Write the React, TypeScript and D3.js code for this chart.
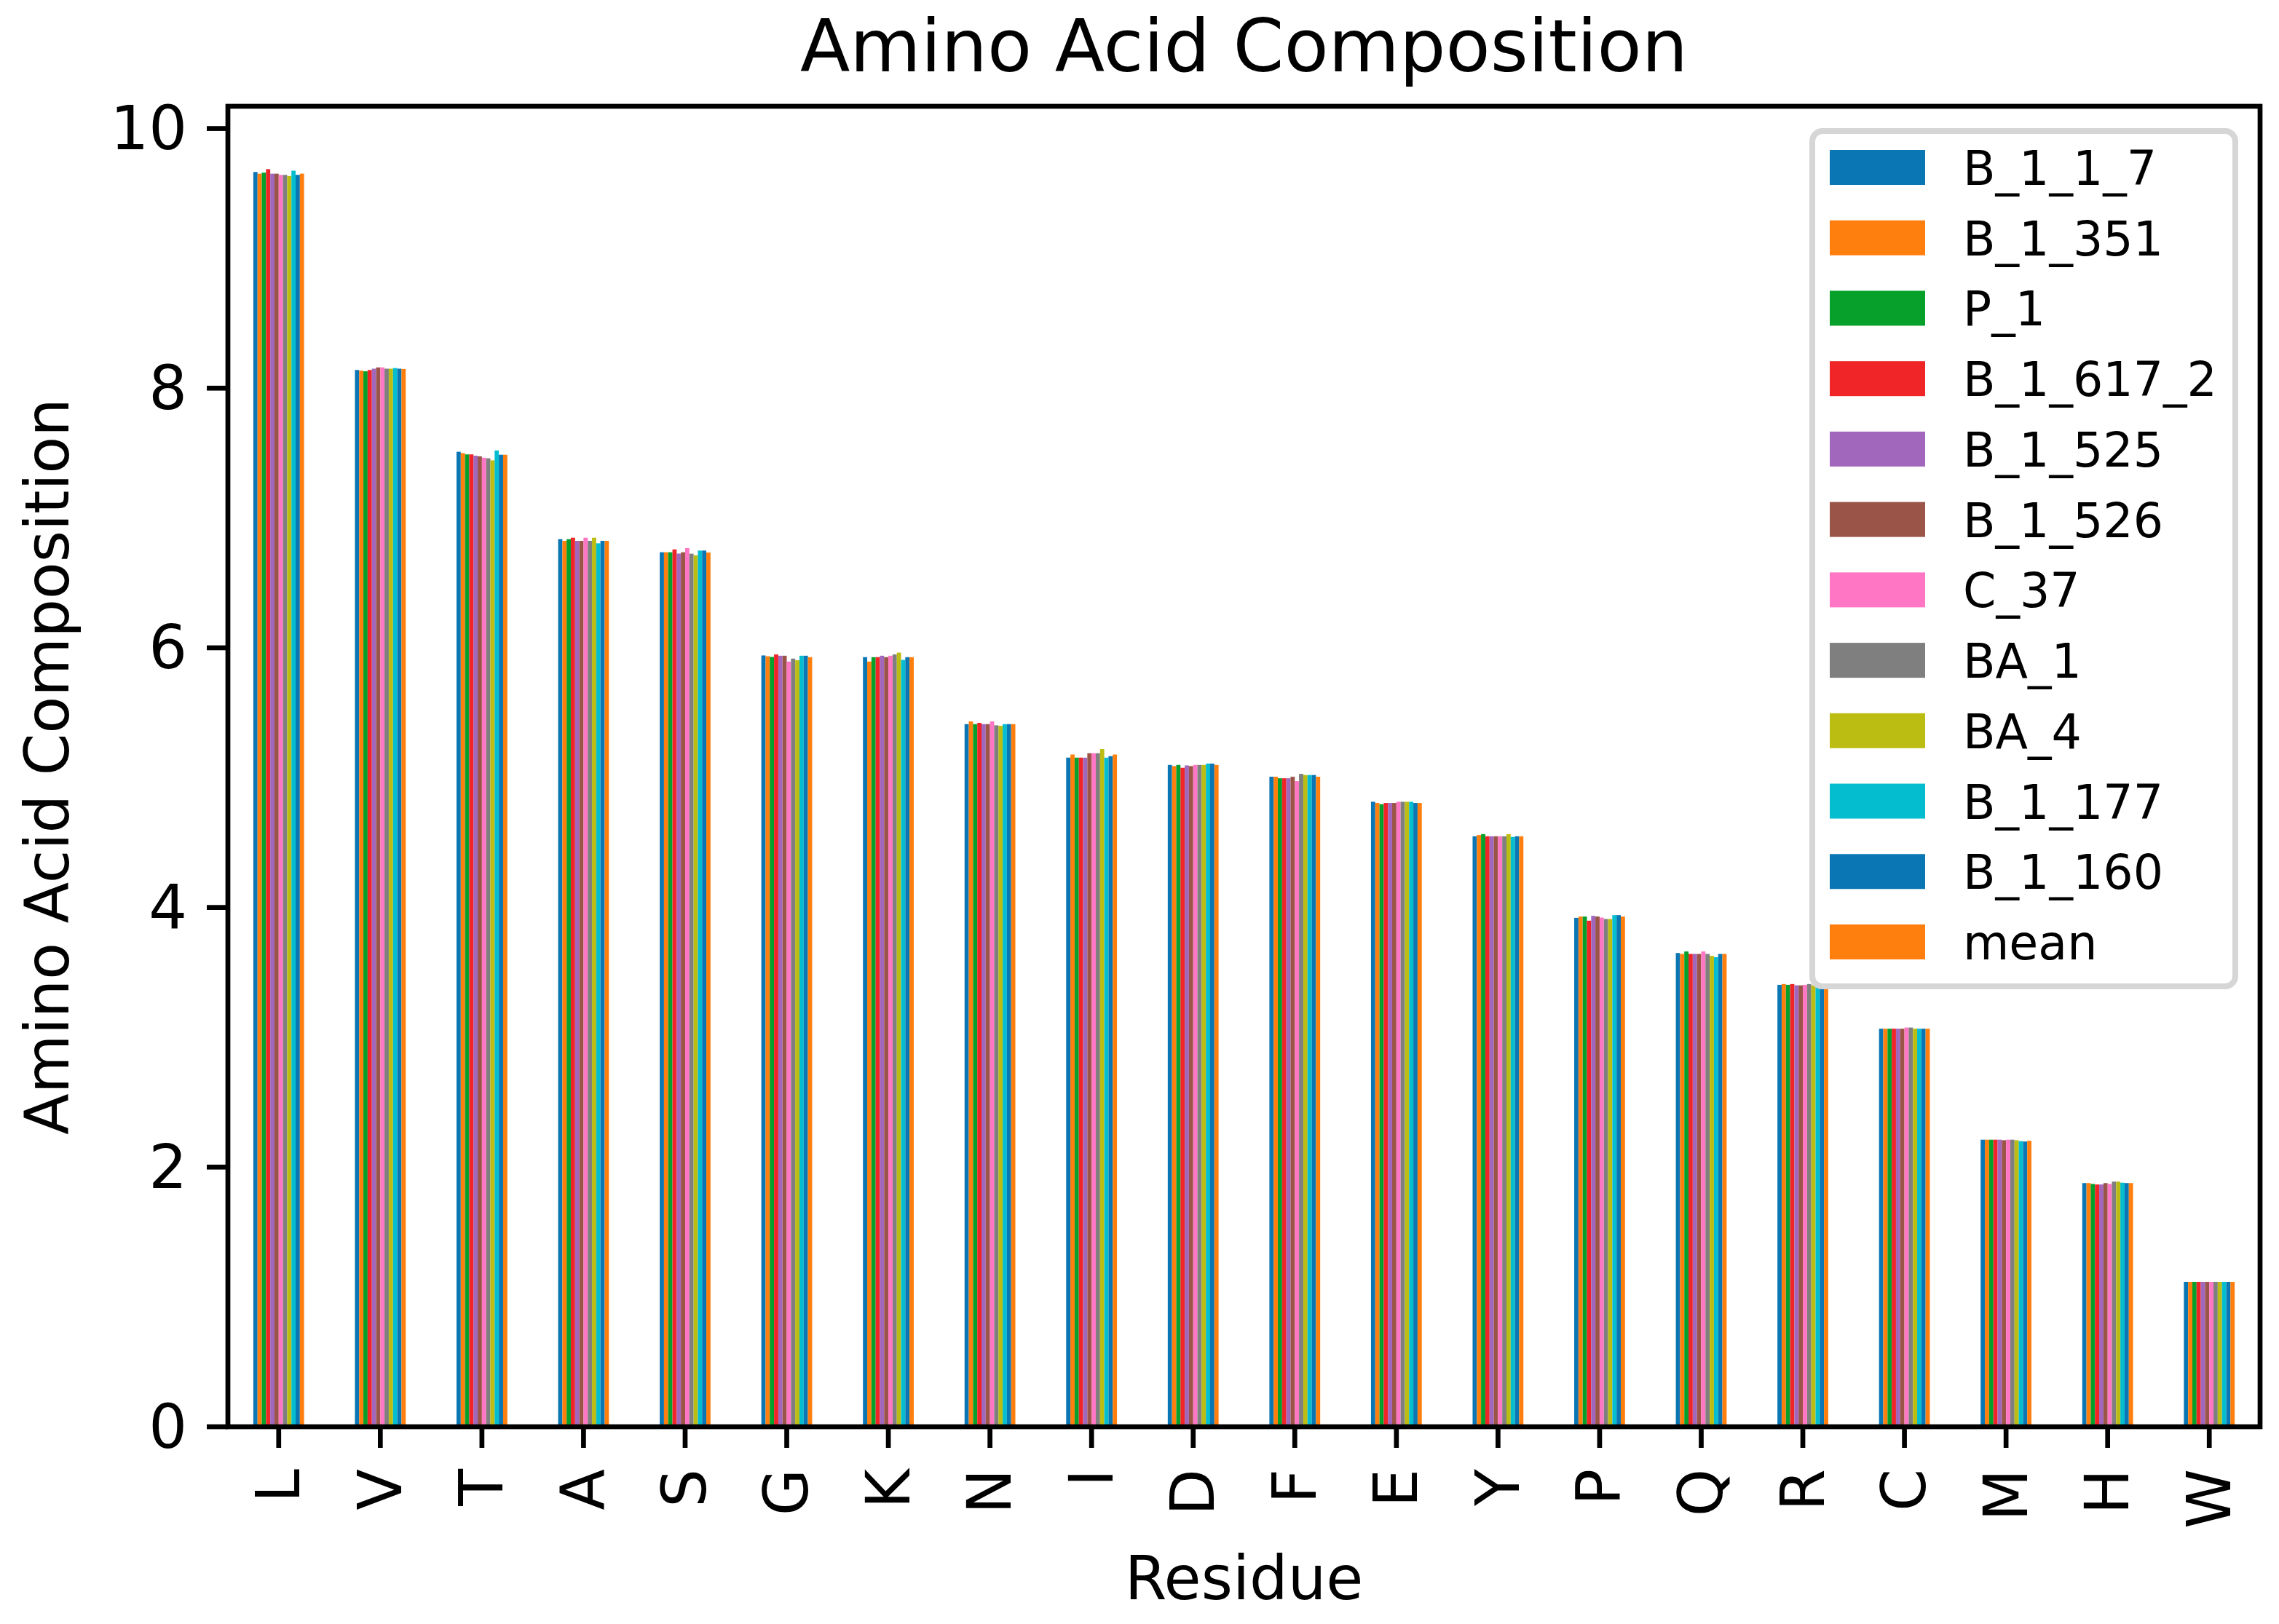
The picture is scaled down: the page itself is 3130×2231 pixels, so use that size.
import React from "react";
import * as d3 from "d3";

// residues in the order they appear on the x axis
const RESIDUES = ["L", "V", "T", "A", "S", "G", "K", "N", "I", "D", "F", "E", "Y", "P", "Q", "R", "C", "M", "H", "W"];

// one list per variant
const B_1_1_7 = [9.665, 8.14, 7.51, 6.837, 6.736, 5.941, 5.928, 5.412, 5.154, 5.098, 5.007, 4.814, 4.548, 3.92, 3.649, 3.404, 3.066, 2.211, 1.877, 1.116];
const B_1_351 = [9.652, 8.135, 7.5, 6.824, 6.736, 5.935, 5.894, 5.433, 5.178, 5.089, 5.007, 4.805, 4.558, 3.93, 3.642, 3.41, 3.066, 2.211, 1.877, 1.116];
const P_1 = [9.66, 8.13, 7.49, 6.837, 6.736, 5.93, 5.928, 5.412, 5.154, 5.098, 4.995, 4.795, 4.565, 3.93, 3.661, 3.404, 3.066, 2.211, 1.87, 1.116];
const B_1_617_2 = [9.687, 8.14, 7.49, 6.848, 6.758, 5.949, 5.928, 5.422, 5.154, 5.076, 4.995, 4.805, 4.548, 3.898, 3.642, 3.41, 3.066, 2.211, 1.866, 1.116];
const B_1_525 = [9.652, 8.15, 7.48, 6.824, 6.726, 5.939, 5.939, 5.412, 5.154, 5.094, 4.995, 4.805, 4.548, 3.935, 3.642, 3.4, 3.066, 2.211, 1.866, 1.116];
const B_1_526 = [9.652, 8.16, 7.475, 6.824, 6.736, 5.939, 5.928, 5.412, 5.188, 5.089, 5.007, 4.805, 4.548, 3.93, 3.642, 3.4, 3.066, 2.207, 1.877, 1.116];
const C_37 = [9.643, 8.16, 7.464, 6.848, 6.768, 5.894, 5.939, 5.433, 5.188, 5.098, 4.973, 4.814, 4.548, 3.922, 3.661, 3.404, 3.075, 2.211, 1.87, 1.116];
const BA_1 = [9.643, 8.15, 7.46, 6.824, 6.725, 5.917, 5.949, 5.403, 5.188, 5.098, 5.029, 4.814, 4.548, 3.911, 3.642, 3.41, 3.075, 2.211, 1.888, 1.116];
const BA_4 = [9.634, 8.15, 7.444, 6.848, 6.712, 5.904, 5.963, 5.399, 5.22, 5.098, 5.02, 4.814, 4.565, 3.911, 3.627, 3.4, 3.066, 2.207, 1.888, 1.116];
const B_1_177 = [9.675, 8.155, 7.52, 6.805, 6.749, 5.939, 5.907, 5.412, 5.154, 5.108, 5.02, 4.814, 4.543, 3.941, 3.617, 3.385, 3.066, 2.2, 1.88, 1.116];
const B_1_160 = [9.643, 8.15, 7.487, 6.824, 6.749, 5.939, 5.928, 5.412, 5.165, 5.108, 5.02, 4.805, 4.548, 3.941, 3.642, 3.385, 3.066, 2.197, 1.877, 1.116];
const MEAN = [9.652, 8.148, 7.487, 6.824, 6.734, 5.928, 5.928, 5.412, 5.178, 5.098, 5.007, 4.805, 4.548, 3.93, 3.642, 3.4, 3.066, 2.203, 1.877, 1.116];

const SERIES_NAMES = ["B_1_1_7", "B_1_351", "P_1", "B_1_617_2", "B_1_525", "B_1_526", "C_37", "BA_1", "BA_4", "B_1_177", "B_1_160", "mean"];
const SERIES_VALUES = [B_1_1_7, B_1_351, P_1, B_1_617_2, B_1_525, B_1_526, C_37, BA_1, BA_4, B_1_177, B_1_160, MEAN];
const COLORS = ["#0a76b4", "#ff7f0e", "#06a02a", "#f02527", "#a067bd", "#9a5548", "#ff77c4", "#7f7f7f", "#bcbd12", "#04bed0", "#0a76b4", "#ff7f0e"];

const Y_TICKS = [0, 2, 4, 6, 8, 10];

const W = 3130;
const H = 2231;
const FONT = "DejaVu Sans, Verdana, sans-serif";

export default function App() {
  const left = 313;
  const right = 3104;
  const top = 146;
  const bottom = 1960;
  const lw = 6.7; // 0.8pt spine
  const tickLen = 29;
  const tickFs = 83;

  const maxVal = d3.max(SERIES_VALUES.flat()) as number;

  const x = d3.scaleLinear().domain([-0.5, RESIDUES.length - 0.5]).range([left, right]);
  const y = d3.scaleLinear().domain([0, maxVal * 1.05]).range([bottom, top]);
  // offsets inside one group, in axis units
  const inner = d3.scaleBand().domain(SERIES_NAMES).range([-0.25, 0.25]).padding(0);

  // legend layout
  const legFs = 65;
  const legLeft = 2489;
  const legRight = 3070;
  const legTop = 180;
  const legBottom = 1355;
  const rowY = d3.scaleLinear().domain([0, SERIES_NAMES.length - 1]).range([230, 1294]);

  return (
    <svg
      width={W}
      height={H}
      style={{ position: "absolute", left: 0, top: 0, background: "#fff" }}
      fontFamily={FONT}
    >
      <rect x={0} y={0} width={W} height={H} fill="#fff" />

      {/* bars */}
      <g>
        {SERIES_NAMES.map((name, si) => (
          <g key={name} fill={COLORS[si]}>
            {SERIES_VALUES[si].map((v, ri) => {
              const x0 = x(ri + (inner(name) as number));
              const x1 = x(ri + (inner(name) as number) + inner.bandwidth());
              return <rect key={ri} x={x0} y={y(v)} width={x1 - x0} height={y(0) - y(v)} />;
            })}
          </g>
        ))}
      </g>

      {/* y axis ticks */}
      <g>
        {Y_TICKS.map((t) => (
          <g key={t}>
            <line x1={left - tickLen} x2={left} y1={y(t)} y2={y(t)} stroke="#000" strokeWidth={lw} />
            <text
              x={left - tickLen - 27}
              y={y(t)}
              textAnchor="end"
              dominantBaseline="central"
              fontSize={tickFs}
              fill="#000"
            >
              {t}
            </text>
          </g>
        ))}
      </g>

      {/* x axis ticks */}
      <g>
        {RESIDUES.map((r, i) => (
          <g key={r}>
            <line x1={x(i)} x2={x(i)} y1={bottom} y2={bottom + tickLen} stroke="#000" strokeWidth={lw} />
            <text
              transform={`translate(${x(i)},${bottom + tickLen + 29}) rotate(-90)`}
              textAnchor="end"
              dominantBaseline="central"
              fontSize={tickFs}
              fill="#000"
            >
              {r}
            </text>
          </g>
        ))}
      </g>

      {/* frame */}
      <rect
        x={left}
        y={top}
        width={right - left}
        height={bottom - top}
        fill="none"
        stroke="#000"
        strokeWidth={lw}
        strokeLinejoin="miter"
        strokeLinecap="square"
      />

      {/* legend */}
      <g>
        <rect
          x={legLeft}
          y={legTop}
          width={legRight - legLeft}
          height={legBottom - legTop}
          rx={14}
          ry={14}
          fill="#fff"
          fillOpacity={0.8}
          stroke="#d6d6d6"
          strokeWidth={8}
        />
        {SERIES_NAMES.map((name, si) => (
          <g key={name}>
            <rect x={2513} y={rowY(si) - 24} width={131} height={48} fill={COLORS[si]} />
            <text x={2696} y={rowY(si) + 24} fontSize={legFs} fill="#000">
              {name}
            </text>
          </g>
        ))}
      </g>

      {/* labels */}
      <text x={(left + right) / 2} y={98} textAnchor="middle" fontSize={100} fill="#000">
        Amino Acid Composition
      </text>
      <text x={(left + right) / 2} y={2197} textAnchor="middle" fontSize={83} fill="#000">
        Residue
      </text>
      <text
        transform={`translate(94,${(top + bottom) / 2}) rotate(-90)`}
        textAnchor="middle"
        fontSize={83}
        fill="#000"
      >
        Amino Acid Composition
      </text>
    </svg>
  );
}
